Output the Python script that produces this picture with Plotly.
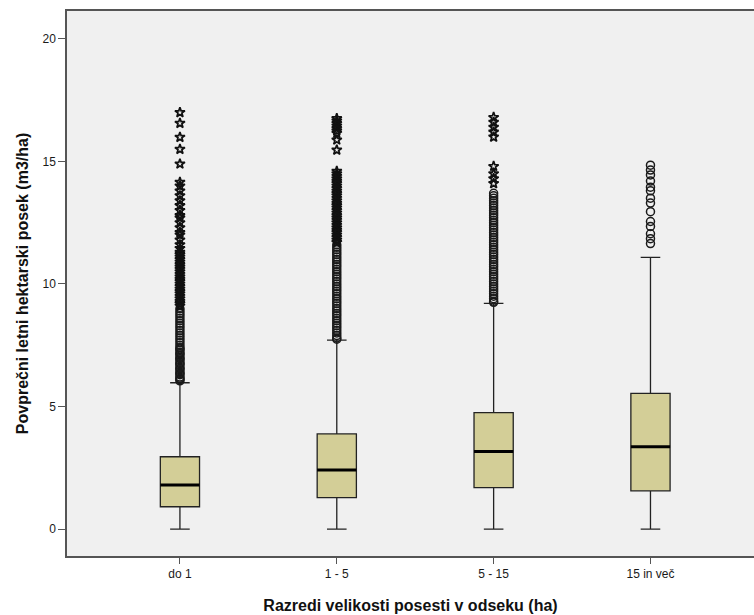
import plotly.graph_objects as go

categories = ["do 1", "1 - 5", "5 - 15", "15 in več"]
q1 = [0.91, 1.28, 1.69, 1.56]
median = [1.80, 2.41, 3.16, 3.36]
q3 = [2.95, 3.88, 4.75, 5.54]
lower_whisker = [0.0, 0.0, 0.0, 0.0]
upper_whisker = [5.97, 7.71, 9.21, 11.09]

# outliers (circles) and extreme values (stars)
circles_1 = [6.05, 6.1, 6.15, 6.2, 6.3, 6.35, 6.4, 6.5, 6.55, 6.6, 6.7, 6.75, 6.8, 6.9,
             6.95, 7.0, 7.1, 7.15, 7.2, 7.3, 7.35, 7.4, 7.5, 7.6, 7.7, 7.8, 7.9, 8.0,
             8.1, 8.2, 8.3, 8.4, 8.5, 8.6, 8.7, 8.8, 8.9, 9.0]
stars_1 = [9.1, 9.2, 9.3, 9.4, 9.5, 9.6, 9.7, 9.8, 9.9, 10.0, 10.1, 10.2, 10.3, 10.4,
           10.5, 10.6, 10.7, 10.8, 10.9, 11.0, 11.1, 11.2, 11.3, 11.45, 11.6, 11.8,
           12.0, 12.1, 12.3, 12.5, 12.7, 12.8, 13.0, 13.2, 13.4, 13.6, 13.8, 14.0,
           14.15, 14.9, 15.5, 15.99, 16.56, 17.0]
circles_2 = [7.75, 7.8, 7.9, 8.0, 8.1, 8.2, 8.3, 8.4, 8.5, 8.6, 8.7, 8.8, 8.9, 9.0,
             9.1, 9.2, 9.3, 9.4, 9.5, 9.6, 9.7, 9.8, 9.9, 10.0, 10.1, 10.2, 10.3,
             10.4, 10.5, 10.6, 10.7, 10.8, 10.9, 11.0, 11.1, 11.2, 11.3, 11.4, 11.5, 11.6]
stars_2 = [11.7, 11.8, 11.9, 12.0, 12.1, 12.2, 12.3, 12.4, 12.5, 12.6, 12.7, 12.8,
           12.9, 13.0, 13.1, 13.2, 13.3, 13.4, 13.5, 13.6, 13.7, 13.8, 13.9, 14.0,
           14.1, 14.2, 14.3, 14.4, 14.5, 14.6, 15.47, 15.88, 16.15, 16.25, 16.35,
           16.45, 16.55, 16.65, 16.75]
circles_3 = [9.25, 9.3, 9.4, 9.5, 9.6, 9.7, 9.8, 9.9, 10.0, 10.1, 10.2, 10.3, 10.4,
             10.5, 10.6, 10.7, 10.8, 10.9, 11.0, 11.1, 11.2, 11.3, 11.4, 11.5, 11.6,
             11.7, 11.8, 11.9, 12.0, 12.1, 12.2, 12.3, 12.4, 12.5, 12.6, 12.7, 12.8,
             12.9, 13.0, 13.1, 13.2, 13.3, 13.4, 13.5, 13.6, 13.7]
stars_3 = [14.1, 14.3, 14.5, 14.8, 16.0, 16.2, 16.4, 16.6, 16.8]
circles_4 = [11.65, 11.85, 12.05, 12.35, 12.55, 12.95, 13.3, 13.5, 13.8, 13.95, 14.2,
             14.45, 14.65, 14.85]
stars_4 = []

circles = [circles_1, circles_2, circles_3, circles_4]
stars = [stars_1, stars_2, stars_3, stars_4]

box_w = 0.25
fill = "#d3ce97"

fig = go.Figure()
for i in range(len(categories)):
    fig.add_trace(go.Box(
        x=[i], q1=[q1[i]], median=[median[i]], q3=[q3[i]],
        lowerfence=[lower_whisker[i]], upperfence=[upper_whisker[i]],
        width=box_w, whiskerwidth=0.5, boxpoints=False,
        fillcolor=fill, line=dict(color="#222222", width=1.3),
        showlegend=False, hoverinfo="skip",
    ))
    fig.add_trace(go.Scatter(
        x=[i - box_w / 2, i + box_w / 2], y=[median[i], median[i]],
        mode="lines", line=dict(color="black", width=3),
        showlegend=False, hoverinfo="skip",
    ))
    if circles[i]:
        fig.add_trace(go.Scatter(
            x=[i] * len(circles[i]), y=circles[i], mode="markers",
            marker=dict(symbol="circle-open", size=8, color="#1a1a1a",
                        line=dict(width=1.5)),
            showlegend=False, hoverinfo="skip",
        ))
    if stars[i]:
        fig.add_trace(go.Scatter(
            x=[i] * len(stars[i]), y=stars[i], mode="markers",
            marker=dict(symbol="star-open", size=7.5, color="#111111",
                        line=dict(width=1.7)),
            showlegend=False, hoverinfo="skip",
        ))

axis_font = dict(family="Liberation Sans, Arial, sans-serif", size=16, color="#111111")

fig.update_layout(
    width=754, height=615,
    margin=dict(l=67, r=0, t=11, b=59),
    paper_bgcolor="white", plot_bgcolor="#f0f0f0",
    font=dict(family="Liberation Sans, Arial, sans-serif", color="#1a1a1a"),
    xaxis=dict(
        range=[-0.72, 3.66], tickmode="array", tickvals=list(range(len(categories))),
        ticktext=categories, ticks="outside", ticklen=6, tickcolor="#555555",
        showline=True, linecolor="#555555", linewidth=1.5, mirror=True,
        showgrid=False, zeroline=False,
        tickfont=dict(size=12, color="#1a1a1a"),
        title=dict(text="<b>Razredi velikosti posesti v odseku (ha)</b>",
                   font=axis_font, standoff=20),
        automargin=False,
    ),
    yaxis=dict(
        range=[-1.1, 21.14], tickvals=[0, 5, 10, 15, 20],
        ticks="outside", ticklen=7, tickcolor="#555555",
        showline=True, linecolor="#555555", linewidth=1.5, mirror=True,
        showgrid=False, zeroline=False,
        tickfont=dict(size=12, color="#1a1a1a"),
        title=dict(text="<b>Povprečni letni hektarski posek (m3/ha)</b>",
                   font=axis_font, standoff=10),
        automargin=False,
    ),
)

fig.write_html("out.html", config={"displayModeBar": False},
               post_script="document.body.style.margin='0';")
